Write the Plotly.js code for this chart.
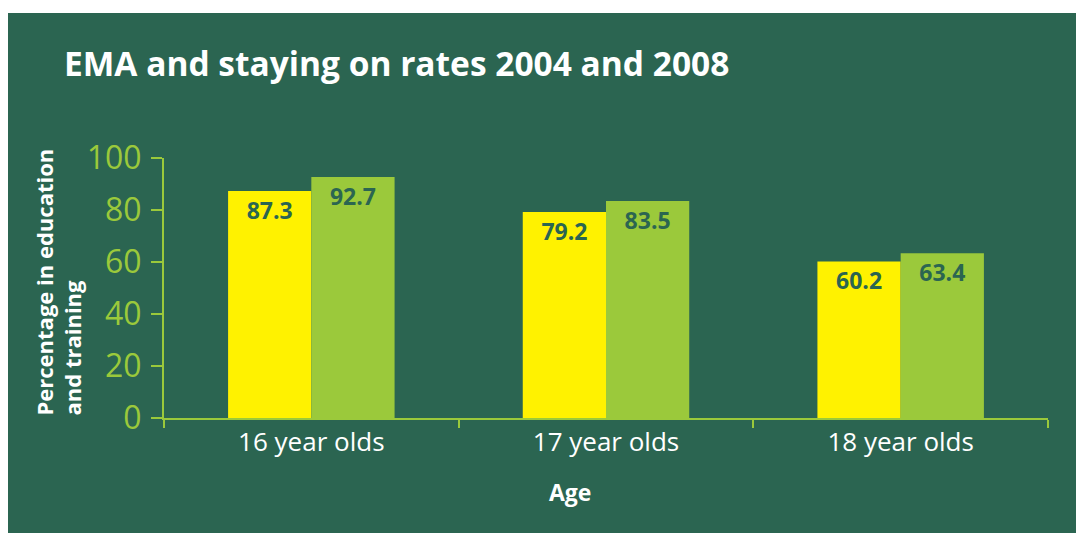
<!DOCTYPE html>
<html>
<head>
<meta charset="utf-8">
<script src="https://cdn.plot.ly/plotly-3.0.1.min.js"></script>
<style>
  html, body { margin: 0; padding: 0; background: #ffffff; width: 1077px; height: 533px; overflow: hidden; }
  #chart { position: absolute; left: 8px; top: 13px; width: 1068px; height: 520px; }
</style>
</head>
<body>
<div id="chart"></div>
<script>
const categories = ["16 year olds", "17 year olds", "18 year olds"];
const values2004 = [87.3, 79.2, 60.2];
const values2008 = [92.7, 83.5, 63.4];
const yTickVals = [0, 20, 40, 60, 80, 100];

const BG = "#2b6551";
const YELLOW = "#fff200";
const LIME = "#9bc93b";
const FONT = "Open Sans, Noto Sans, sans-serif";

const labelFont = { family: FONT, size: 23, color: BG, weight: 700 };

const traces = [
  {
    type: "bar", name: "2004", x: categories, y: values2004,
    marker: { color: YELLOW, line: { width: 0 } },
    text: values2004.map(v => v.toFixed(1)),
    textposition: "inside", insidetextanchor: "end",
    textfont: labelFont, textangle: 0, hoverinfo: "none", cliponaxis: false
  },
  {
    type: "bar", name: "2008", x: categories, y: values2008,
    marker: { color: LIME, line: { width: 0 } },
    text: values2008.map(v => v.toFixed(1)),
    textposition: "inside", insidetextanchor: "end",
    textfont: labelFont, textangle: 0, hoverinfo: "none", cliponaxis: false
  }
];

const layout = {
  width: 1068, height: 520,
  paper_bgcolor: BG, plot_bgcolor: BG,
  margin: { l: 156, r: 28, t: 144.5, b: 115, pad: 0 },
  showlegend: false,
  barmode: "group", bargap: 0.435, bargroupgap: 0,
  title: {
    text: "EMA and staying on rates 2004 and 2008",
    font: { family: FONT, size: 33.5, color: "#ffffff", weight: 700 },
    xref: "container", x: 56 / 1068, xanchor: "left",
    yref: "container", y: 1 - 51 / 520, yanchor: "middle"
  },
  xaxis: {
    type: "category", range: [-0.5, 2.5],
    showline: true, linecolor: LIME, linewidth: 2,
    ticks: "outside", tickson: "boundaries", ticklen: 8, tickwidth: 2, tickcolor: LIME,
    tickfont: { family: FONT, size: 26, color: "#ffffff" },
    ticklabelstandoff: 0,
    showgrid: false, zeroline: false, fixedrange: true
  },
  yaxis: {
    range: [0, 100], tickvals: yTickVals, ticktext: yTickVals.map(String),
    showline: true, linecolor: LIME, linewidth: 2,
    ticks: "outside", ticklen: 11, tickwidth: 2, tickcolor: LIME,
    tickfont: { family: FONT, size: 32, color: LIME },
    ticklabelstandoff: 3,
    showgrid: false, zeroline: false, fixedrange: true
  },
  annotations: [
    {
      text: "Age", showarrow: false,
      xref: "paper", yref: "paper", x: (570 - 164) / 884, y: 0, yshift: -74,
      xanchor: "center", yanchor: "middle",
      font: { family: FONT, size: 23, color: "#ffffff", weight: 700 }
    },
    {
      text: "Percentage in education<br>and training", showarrow: false,
      textangle: -90, align: "left",
      xref: "paper", yref: "paper", x: 0, xshift: -106, y: 0, yshift: 0,
      xanchor: "center", yanchor: "bottom",
      font: { family: FONT, size: 22, color: "#ffffff", weight: 700 }
    }
  ]
};

Plotly.newPlot("chart", traces, layout, { displayModeBar: false, staticPlot: true });
</script>
</body>
</html>
